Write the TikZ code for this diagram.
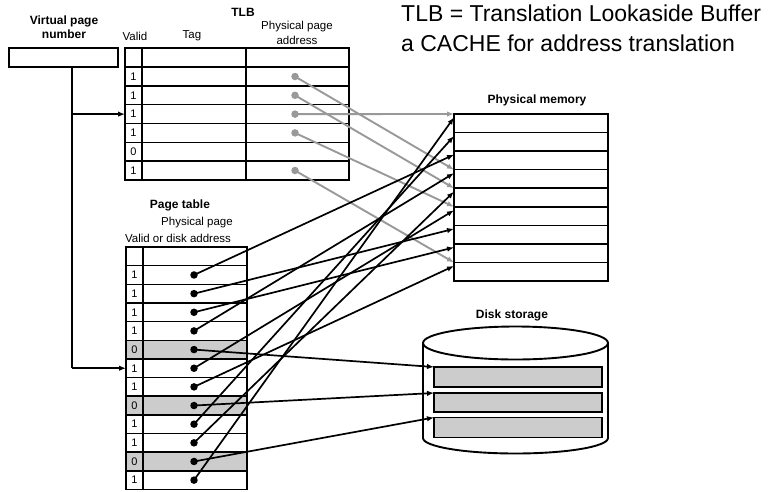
\documentclass[tikz,border=0pt]{standalone}
\usepackage{fontspec}
\setmainfont{Liberation Sans}
\usetikzlibrary{arrows.meta,calc}

\definecolor{cellgray}{gray}{0.80}
\definecolor{tlbgray}{gray}{0.60}

\begin{document}
\begin{tikzpicture}[x=1pt,y=-1pt,
  frame/.style={line width=1.9pt},
  rowline/.style={line width=1.5pt},
  divider/.style={line width=2.5pt},
  link/.style={line width=1.7pt, -{Latex[length=7pt,width=5.5pt]}},
  graylink/.style={line width=1.9pt, draw=tlbgray, -{Latex[length=7pt,width=5.5pt]}},
  dot/.style={circle, fill=black, inner sep=0pt, minimum size=7.5pt},
  graydot/.style={circle, fill=tlbgray, inner sep=0pt, minimum size=7.5pt},
  head/.style={font=\bfseries\fontsize{12}{14}\selectfont, inner sep=0pt},
  lbl/.style={font=\fontsize{11.5}{15.5}\selectfont, inner sep=0pt},
  digit/.style={font=\fontsize{11}{13}\selectfont, inner sep=0pt},
  bar/.style={draw, frame, fill=cellgray, anchor=north west, inner sep=0pt, outer sep=0pt,
              minimum width=168pt, minimum height=20pt},
  note/.style={font=\fontsize{23}{27}\selectfont, inner sep=0pt, anchor=base west},
]
\useasboundingbox (0,0) rectangle (780,491);

% ---------- explanatory text ----------
\node[note] (def1) at (401,21) {TLB = Translation Lookaside Buffer};
\node[note] (def2) at (401,51) {a CACHE for address translation};

% ---------- virtual page number ----------
\node[head, align=center] (vpnlbl) at (64,27) {Virtual page\\number};
\node[draw, frame, anchor=north west, inner sep=0pt, outer sep=0pt,
      minimum width=109pt, minimum height=19pt] (vpn) at (9,48) {};

% ---------- TLB ----------
\def\tt{48.3}\def\th{18.8}
\node[head] (tlbname) at (243,12) {TLB};
\node[lbl] (tlbvalid) at (135,36) {Valid};
\node[lbl] (tlbtag) at (192,36) {Tag};
\node[lbl, align=center] (tlbaddr) at (297,33) {Physical page\\address};
\foreach \i in {1,...,6}
  \draw[rowline] (125,{\tt+\i*\th}) -- (349,{\tt+\i*\th});
\draw[divider] (142,\tt) -- (142,{\tt+7*\th});
\draw[rowline] (246,\tt) -- (246,{\tt+7*\th});
\draw[frame] (125,\tt) rectangle (349,{\tt+7*\th});
\foreach \v [count=\i] in {1,1,1,1,0,1}
  \node[digit] (tv\i) at (133.5,{\tt+(\i+0.5)*\th}) {\v};
\foreach \i in {1,2,3,4,6}
  \coordinate (t\i) at (295,{\tt+(\i+0.5)*\th});

% ---------- page table ----------
\def\pt{247}\def\ph{18.65}
\node[head] (ptname) at (180,205) {Page table};
\node[lbl] (ptphys) at (197,223) {Physical page};
\node[lbl] (ptvalid) at (178,238.5) {Valid or disk address};
\foreach \i in {5,8,11}
  \fill[cellgray] (126,{\pt+\i*\ph}) rectangle (247,{\pt+(\i+1)*\ph});
\foreach \i in {1,...,12}
  \draw[rowline] (126,{\pt+\i*\ph}) -- (247,{\pt+\i*\ph});
\draw[divider] (143,\pt) -- (143,{\pt+13*\ph});
\draw[frame] (126,\pt) rectangle (247,{\pt+13*\ph});
\foreach \v [count=\i] in {1,1,1,1,0,1,1,0,1,1,0,1}
  \node[digit] (pv\i) at (134.5,{\pt+(\i+0.5)*\ph}) {\v};
\foreach \i in {1,...,12}
  \coordinate (p\i) at (194,{\pt+(\i+0.5)*\ph});

% ---------- physical memory ----------
\def\mt{114}\def\mh{18.556}
\node[head] (pmname) at (537,100) {Physical memory};
\foreach \i in {1,...,8}
  \draw[rowline] (454,{\mt+\i*\mh}) -- (608,{\mt+\i*\mh});
\draw[frame] (454,\mt) rectangle (608,{\mt+9*\mh});
\foreach \k in {0,...,8}{
  \coordinate (m\k) at (454,{\mt+\k*\mh+3.5});
  \coordinate (g\k) at (454,{\mt+\k*\mh});
}

% ---------- disk storage ----------
\node[head] (dsname) at (512,315) {Disk storage};
\draw[frame, fill=white] (423,343) -- (423,438)
  arc[start angle=180, end angle=360, x radius=92.5pt, y radius=15.5pt] -- (608,343);
\draw[frame] (515.5,343) ellipse [x radius=92.5pt, y radius=16.5pt];
\node[bar] (bar1) at (434,367) {};
\node[bar, minimum height=19pt] (bar2) at (434,393) {};
\node[bar] (bar3) at (434,417.5) {};

% ---------- virtual page number routing ----------
\coordinate (vtop) at ($(vpn.south west)+(63,0)$);
\coordinate (tjoin) at (72,{\tt+3.5*\th});
\coordinate (pjoin) at (72,{\pt+6.5*\ph});
\coordinate (tlbin) at (125,{\tt+3.5*\th});
\coordinate (ptin) at (126,{\pt+6.5*\ph});
\draw[line width=1.7pt] (vtop) -- (pjoin);
\draw[link] (tjoin) -- (tlbin);
\draw[link] (pjoin) -- (ptin);

% ---------- TLB entries to physical memory ----------
\draw[graylink] (t1) -- (g3);
\draw[graylink] (t2) -- (g4);
\draw[graylink] (t3) -- (g0);
\draw[graylink] (t4) -- (g5);
\draw[graylink] (t6) -- (g8);
\foreach \i in {1,2,3,4,6}
  \node[graydot] (td\i) at (t\i) {};

% ---------- page table entries to physical memory ----------
\draw[link] (p1) -- (m2);
\draw[link] (p2) -- (m6);
\draw[link] (p3) -- (m7);
\draw[link] (p4) -- (m3);
\draw[link] (p6) -- (m5);
\draw[link] (p7) -- (m8);
\draw[link] (p9) -- (m1);
\draw[link] (p10) -- (m4);
\draw[link] (p12) -- (m0);

% ---------- page table entries to disk ----------
\draw[link] (p5) -- (bar1.north west);
\draw[link] (p8) -- (bar2.north west);
\draw[link] (p11) -- (bar3.north west);

\foreach \i in {1,...,12}
  \node[dot] (pd\i) at (p\i) {};
\end{tikzpicture}
\end{document}
